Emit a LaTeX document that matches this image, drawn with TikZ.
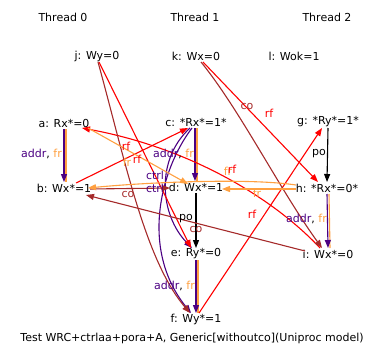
\documentclass[tikz,border=0pt]{standalone}
\usepackage{fontspec}
\setmainfont{DejaVu Sans}
\usetikzlibrary{arrows.meta}
\definecolor{addrc}{RGB}{75,0,130}
\definecolor{frc}{RGB}{255,160,64}
\definecolor{coc}{RGB}{165,42,42}
\definecolor{rfc}{RGB}{255,0,0}
\tikzset{
  ev/.style={inner sep=0pt, font=\fontsize{11}{13}\selectfont},
  lab/.style={inner sep=0pt, font=\fontsize{11}{13}\selectfont},
  arr/.style={-{Triangle[length=8pt,width=6pt]}, line width=1.1pt},
  plain/.style={line width=1.1pt},
  addre/.style={arr, addrc},
  fre/.style={arr, frc},
  fra/.style={plain, frc},
  rfe/.style={arr, rfc},
  coe/.style={arr, coc},
  poe/.style={arr, black},
}
\begin{document}
\begin{tikzpicture}[x=1pt,y=-1pt]
\useasboundingbox (0,0) rectangle (387,361);
% thread titles
\node[ev] (t0) at (63,17) {Thread 0};
\node[ev] (t1) at (195,17) {Thread 1};
\node[ev] (t2) at (327,17) {Thread 2};
% events
\node[ev] (j) at (97,56) {j: Wy=0};
\node[ev] (k) at (196,56) {k: Wx=0};
\node[ev] (l) at (294,56) {l: Wok=1};
\node[ev] (a) at (64,123) {a: Rx*=0};
\node[ev] (c) at (196,122) {c: *Rx*=1*};
\node[ev] (g) at (328,122) {g: *Ry*=1*};
\node[ev] (b) at (64,188) {b: Wx*=1};
\node[ev] (d) at (196,187) {d: Wx*=1};
\node[ev] (h) at (327,188) {h: *Rx*=0*};
\node[ev] (e) at (196,254) {e: Ry*=0};
\node[ev] (i) at (328,254) {i: Wx*=0};
\node[ev] (f) at (196,319) {f: Wy*=1};
\node[ev] (cap) at (192,338) {Test WRC+ctrlaa+pora+A, Generic[withoutco](Uniproc model)};

% addr, fr pairs
\draw[fra] ([shift={(2,6)}]a.center) -- ([shift={(2,-6)}]b.center);
\draw[addre] ([shift={(0,6)}]a.center) -- ([shift={(0,-6)}]b.center);
\draw[fra] ([shift={(1,6)}]c.center) -- ([shift={(1,-6)}]d.center);
\draw[addre] ([shift={(-1,6)}]c.center) -- ([shift={(-1,-6)}]d.center);
\draw[fra] ([shift={(2,6)}]e.center) -- ([shift={(2,-6)}]f.center);
\draw[addre] ([shift={(0,6)}]e.center) -- ([shift={(0,-6)}]f.center);
\draw[fra] ([shift={(2,6)}]h.center) -- ([shift={(2,-6)}]i.center);
\draw[addre] ([shift={(0,6)}]h.center) -- ([shift={(0,-6)}]i.center);
% po
\draw[poe] ([shift={(0,6)}]d.center) -- ([shift={(0,-6)}]e.center);
\draw[poe] ([shift={(0,6)}]g.center) -- ([shift={(0,-6)}]h.center);
% ctrl
\draw[addre] ([shift={(-6,6)}]c.center) .. controls (155,160) and (160,215) .. ([shift={(-4,-6)}]e.center);
\draw[addre] ([shift={(-4,6)}]c.center) .. controls (160,170) and (140,250) .. ([shift={(-5,-6)}]f.center);
% rf
\draw[rfe] ([shift={(2,6)}]j.center) -- ([shift={(-5,-6)}]e.center);
\draw[rfe] ([shift={(7,6)}]k.center) -- ([shift={(-9,-6)}]h.center);
\draw[rfe] ([shift={(12,-5)}]b.center) -- ([shift={(-8,6)}]c.center);
\draw[rfe] ([shift={(-8,-6)}]i.center) .. controls (280,205) and (200,150) .. ([shift={(18,5)}]a.center);
\draw[rfe] ([shift={(3,-6)}]f.center) -- ([shift={(-6,6)}]g.center);
% co
\draw[coe] ([shift={(1,6)}]j.center) .. controls (125,160) and (145,260) .. ([shift={(-6,-6)}]f.center);
\draw[coe] ([shift={(5,6)}]k.center) .. controls (240,110) and (280,190) .. ([shift={(-6,-6)}]i.center);
\draw[coe] ([shift={(26,1)}]b.center) -- ([shift={(-26,1)}]d.center);
\draw[coe] ([shift={(-23,-3)}]i.center) -- ([shift={(22,7)}]b.center);
% fr
\draw[fre] ([shift={(24,5)}]a.center) -- ([shift={(-8,-3)}]d.center);
\draw[fre] ([shift={(-31,-3)}]h.center) .. controls (250,178) and (150,182) .. ([shift={(24,0)}]b.center);
\draw[fre] ([shift={(-31,1)}]h.center) -- ([shift={(26,2)}]d.center);

% labels
\node[lab, anchor=east] (l1) at (62,154) {\textcolor{addrc}{addr}, \textcolor{frc}{fr}};
\node[lab, anchor=east] (l2) at (194,154) {\textcolor{addrc}{addr}, \textcolor{frc}{fr}};
\node[lab, anchor=east] (l3) at (327,219) {\textcolor{addrc}{addr}, \textcolor{frc}{fr}};
\node[lab, anchor=east] (l4) at (195,286) {\textcolor{addrc}{addr}, \textcolor{frc}{fr}};
\node[lab, addrc] (l5) at (155,175) {ctrl};
\node[lab, addrc] (l6) at (155,188) {ctrl};
\node[lab] (l7) at (186,219) {po};
\node[lab, coc] (l8) at (196,229) {co};
\node[lab] (l9) at (319,154) {po};
\node[lab, coc] (l10) at (247,106) {co};
\node[lab, rfc] (l11) at (269,113) {rf};
\node[lab, coc] (l12) at (128,194) {co};
\node[lab, rfc] (l13) at (126,146) {rf};
\node[lab, frc] (l14) at (127,162) {fr};
\node[lab, rfc] (l15) at (137,159) {rf};
\node[lab, frc] (l16) at (228,171) {fr};
\node[lab, rfc] (l17) at (232,169) {rf};
\node[lab, frc] (l18) at (257,193) {fr};
\node[lab, rfc] (l19) at (252,214) {rf};
\end{tikzpicture}
\end{document}
